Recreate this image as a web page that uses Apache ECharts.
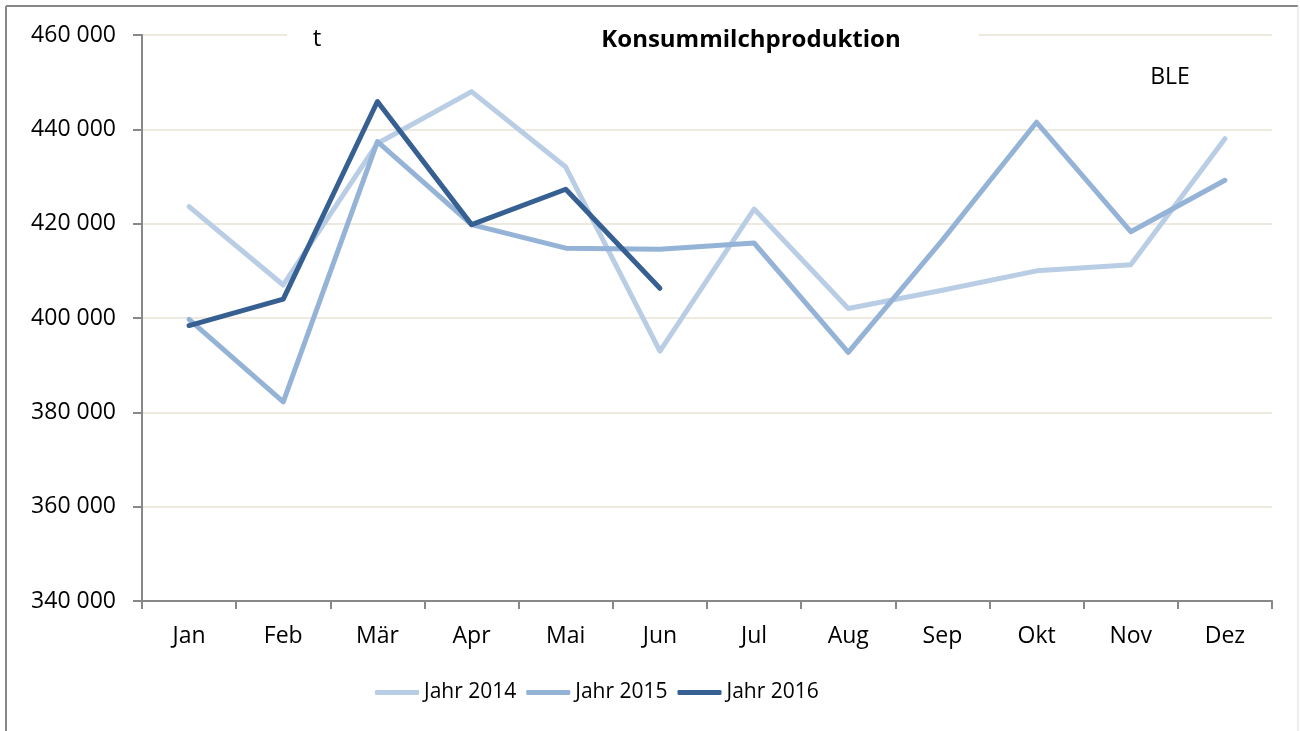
<!DOCTYPE html>
<html>
<head>
<meta charset="utf-8">
<script src="https://cdn.jsdelivr.net/npm/echarts@6/dist/echarts.min.js"></script>
<style>
  html, body { margin: 0; padding: 0; background: #fff; }
  #chart { width: 1300px; height: 731px; }
</style>
</head>
<body>
<div id="chart"></div>
<script>
// Monate
const months = ["Jan", "Feb", "Mär", "Apr", "Mai", "Jun", "Jul", "Aug", "Sep", "Okt", "Nov", "Dez"];
// Konsummilchproduktion in t
const jahr2014 = [423600, 407000, 437000, 448000, 432000, 393000, 423100, 402000, 405900, 410000, 411300, 438000];
const jahr2015 = [399700, 382200, 437400, 419800, 414800, 414600, 415900, 392700, 416500, 441500, 418300, 429200];
const jahr2016 = [398400, 404000, 445900, 419800, 427300, 406300];
const seriesNames = ["Jahr 2014", "Jahr 2015", "Jahr 2016"];
const seriesColors = ["#b9cde5", "#95b3d7", "#376092"];

const font = "'Open Sans', 'DejaVu Sans', sans-serif";
const chart = echarts.init(document.getElementById("chart"));

function fmt(v) {
  return String(v).replace(/\B(?=(\d{3})+(?!\d))/g, " ");
}

function lineSeries(name, data, color) {
  return {
    name: name,
    type: "line",
    data: data,
    symbol: "none",
    smooth: false,
    color: color,
    lineStyle: { width: 5, color: color, cap: "round", join: "round" },
    z: 3
  };
}

chart.setOption({
  animation: false,
  backgroundColor: "#fff",
  textStyle: { fontFamily: font },
  title: [
    {
      text: "Konsummilchproduktion",
      left: 746,
      top: 23,
      textAlign: "center",
      textStyle: { fontFamily: font, fontSize: 24, fontWeight: "bold", color: "#000" }
    },
    {
      text: "t",
      left: 312,
      top: 22,
      textAlign: "center",
      textStyle: { fontFamily: font, fontSize: 24, fontWeight: "normal", color: "#000" }
    },
    {
      text: "BLE",
      left: 1165,
      top: 61,
      textAlign: "center",
      textStyle: { fontFamily: font, fontSize: 23, fontWeight: "normal", color: "#000" }
    }
  ],
  graphic: [
    { type: "rect", z: 5, shape: { x: 287, y: 30, width: 692, height: 12 }, style: { fill: "#fff" } },
    { type: "line", z: 5, shape: { x1: 6, y1: 6, x2: 1298, y2: 6 }, style: { stroke: "#888", lineWidth: 2 } },
    { type: "line", z: 5, shape: { x1: 6, y1: 6, x2: 6, y2: 731 }, style: { stroke: "#888", lineWidth: 2 } },
    { type: "line", z: 5, shape: { x1: 1298, y1: 6, x2: 1298, y2: 731 }, style: { stroke: "#ddd", lineWidth: 1 } }
  ],
  legend: {
    data: seriesNames,
    top: 677,
    left: 370,
    icon: "roundRect",
    itemWidth: 44,
    itemHeight: 5,
    itemGap: 10,
    textStyle: { fontFamily: font, fontSize: 21, color: "#000" }
  },
  grid: { left: 142, right: 28, top: 35, bottom: 130 },
  xAxis: {
    type: "category",
    data: months,
    boundaryGap: true,
    axisLine: { lineStyle: { color: "#888", width: 2 } },
    axisTick: { show: true, length: 8, lineStyle: { color: "#888", width: 2 } },
    axisLabel: { color: "#000", fontSize: 23, fontFamily: font, margin: 24 },
    splitLine: { show: false }
  },
  yAxis: {
    type: "value",
    min: 340000,
    max: 460000,
    interval: 20000,
    axisLine: { show: true, lineStyle: { color: "#888", width: 2 } },
    axisTick: { show: true, length: 9, lineStyle: { color: "#888", width: 2 } },
    axisLabel: { color: "#000", fontSize: 23, fontFamily: font, margin: 26, formatter: fmt },
    splitLine: { show: true, lineStyle: { color: "#eeeadf", width: 2 } }
  },
  series: [
    lineSeries(seriesNames[0], jahr2014, seriesColors[0]),
    lineSeries(seriesNames[1], jahr2015, seriesColors[1]),
    lineSeries(seriesNames[2], jahr2016, seriesColors[2])
  ]
});
</script>
</body>
</html>
